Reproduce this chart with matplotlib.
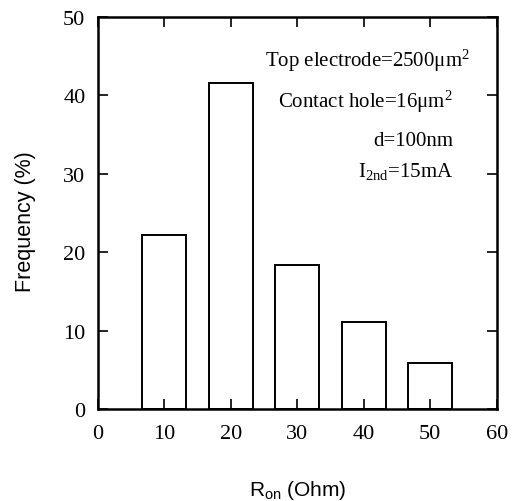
import matplotlib.pyplot as plt

r_on = [10, 20, 30, 40, 50]
freq = [22.2, 41.6, 18.4, 11.1, 5.9]
notes = ['Top electrode=2500μm$^\\mathregular{2}$',
         'Contact hole=16μm$^\\mathregular{2}$',
         'd=100nm',
         'I$_\\mathregular{2nd}$=15mA']
note_x = [55.9, 53.4, 53.4, 53.4]
note_y = [44.6, 39.3, 34.2, 30.4]

serif = 'Liberation Serif'
sans = 'Liberation Sans'
plt.rcParams['mathtext.fontset'] = 'custom'
plt.rcParams['mathtext.rm'] = serif
plt.rcParams['mathtext.it'] = serif

fig = plt.figure(figsize=(5.18, 5.02), dpi=100)
ax = fig.add_axes([0.189, 0.183, 0.770, 0.781])

ax.bar(r_on, freq, width=6.6, facecolor='white', edgecolor='black', linewidth=1.4)

ax.set_xlim(0, 60)
ax.set_ylim(0, 50)
ax.set_xticks(range(0, 61, 10))
ax.set_yticks(range(0, 51, 10))
ax.tick_params(direction='in', top=True, right=True, length=7, width=1.2)
ax.tick_params(axis='x', pad=11)
ax.tick_params(axis='y', pad=9)
for lab in ax.get_xticklabels() + ax.get_yticklabels():
    lab.set_fontfamily(serif)
    lab.set_fontsize(16)
for s in ax.spines.values():
    s.set_linewidth(1.8)

ax.set_xlabel('R$_\\mathregular{on}$ (Ohm)', fontfamily=sans, fontsize=15)
ax.set_ylabel('Frequency (%)', fontfamily=sans, fontsize=15.5)
ax.xaxis.set_label_coords(0.5, -0.175)
ax.yaxis.set_label_coords(-0.155, 0.48)

for t, x, y in zip(notes, note_x, note_y):
    ax.text(x, y, t, ha='right', va='center', fontfamily=serif, fontsize=15)

fig.savefig('out.png')
